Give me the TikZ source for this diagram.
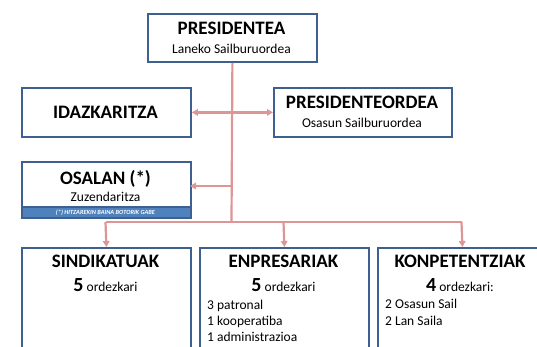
\documentclass[tikz,border=0pt]{standalone}
\usepackage{fontspec}
\setmainfont{Carlito}
\usetikzlibrary{arrows.meta}
\definecolor{boxblue}{RGB}{62,96,145}
\definecolor{stripblue}{RGB}{79,129,189}
\definecolor{connpink}{RGB}{220,150,150}
\begin{document}
\begin{tikzpicture}[x=1pt,y=-1pt,
  box/.style={draw=boxblue, line width=1.8pt, fill=white, rectangle, inner sep=0pt, anchor=north west},
  conn/.style={draw=connpink, line width=2.2pt},
  arr/.style={conn, -{Triangle[length=6pt,width=6.5pt]}},
  ttl/.style={anchor=base, inner sep=0pt, font=\fontsize{19}{22}\selectfont\bfseries},
  sub/.style={anchor=base, inner sep=0pt, font=\fontsize{13.5}{16}\selectfont},
  item/.style={anchor=base west, inner sep=0pt, font=\fontsize{13.5}{16}\selectfont}]
\useasboundingbox (0,0) rectangle (537,346);
\fill[white] (0,0) rectangle (537,346);

% boxes
\node[box, minimum width=169pt, minimum height=48pt] (pres) at (147,13) {};
\node[box, minimum width=169pt, minimum height=49pt] (idaz) at (21,87) {};
\node[box, minimum width=178pt, minimum height=49pt] (preso) at (273,87) {};
\node[box, minimum width=169pt, minimum height=56pt] (osalan) at (21,161) {};
\node[box, fill=stripblue, minimum width=169pt, minimum height=11pt] (strip) at (21,206) {};
\node[box, minimum width=169pt, minimum height=130pt] (sind) at (21,247) {};
\node[box, minimum width=169pt, minimum height=130pt] (enpr) at (199,247) {};
\node[box, minimum width=169pt, minimum height=130pt] (konp) at (377,247) {};

% connectors
\coordinate (busc) at (231.5,222);
\coordinate (busl) at (105.5,222);
\coordinate (busm) at (283.5,222);
\coordinate (busr) at (461.5,222);
\coordinate (oe) at (190,186);
\draw[conn] (pres.south) -- (busc);
\draw[conn] (busl) -- (busr);
\draw[arr] (pres.south |- idaz.east) -- (idaz.east);
\draw[arr] (pres.south |- preso.west) -- (preso.west);
\draw[arr] (pres.south |- oe) -- (oe);
\draw[arr] (busl) -- (sind.north);
\draw[arr] (busm) -- (enpr.north);
\draw[arr] (busr) -- (konp.north);

% texts
\node[ttl] (t1) at (231.5,34.5) {PRESIDENTEA};
\node[sub] (s1) at (231.5,53) {Laneko Sailburuordea};
\node[ttl] (t2) at (105.5,118) {IDAZKARITZA};
\node[ttl] (t3) at (362,108) {PRESIDENTEORDEA};
\node[sub] (s3) at (362,127) {Osasun Sailburuordea};
\node[ttl] (t4) at (105.5,184) {OSALAN (*)};
\node[sub] (s4) at (105.5,201.5) {Zuzendaritza};
\node[anchor=base, inner sep=0pt, text=white, font=\fontsize{6.3}{7}\selectfont\bfseries\itshape] (s5) at (105.5,214.3) {(*) HITZAREKIN BAINA BOTORIK GABE};

\node[ttl] (t6) at (105.5,267) {SINDIKATUAK};
\node[sub] (s6) at (105.5,291) {{\fontsize{20}{22}\selectfont\bfseries 5} ordezkari};
\node[ttl] (t7) at (283.5,267) {ENPRESARIAK};
\node[sub] (s7) at (283.5,291) {{\fontsize{20}{22}\selectfont\bfseries 5} ordezkari};
\node[item] (i71) at (207,309.5) {3 patronal};
\node[item] (i72) at (207,325.5) {1 kooperatiba};
\node[item] (i73) at (207,341.5) {1 administrazioa};
\node[ttl] (t8) at (460,267) {KONPETENTZIAK};
\node[sub] (s8) at (460,291) {{\fontsize{20}{22}\selectfont\bfseries 4} ordezkari:};
\node[item] (i81) at (385,308.5) {2 Osasun Sail};
\node[item] (i82) at (385,325) {2 Lan Saila};
\end{tikzpicture}
\end{document}
